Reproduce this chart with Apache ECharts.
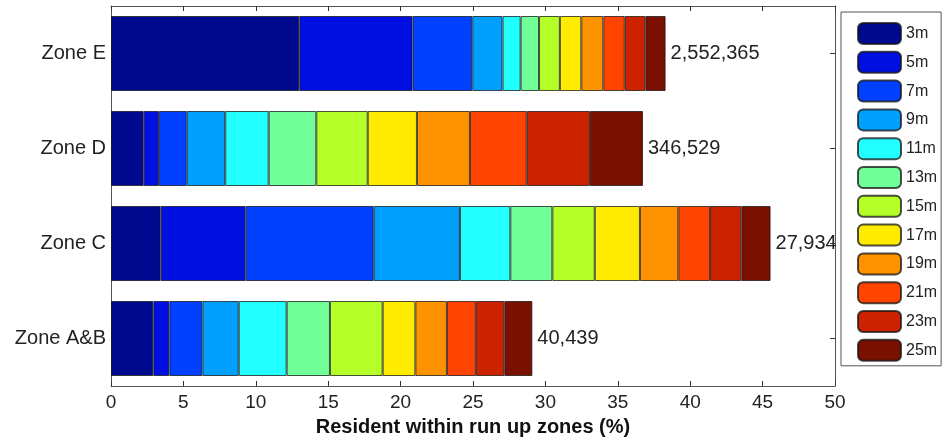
<!DOCTYPE html>
<html>
<head>
<meta charset="utf-8">
<script src="https://cdn.jsdelivr.net/npm/echarts@6/dist/echarts.min.js"></script>
<style>html,body{margin:0;padding:0;background:#fff}#c{width:947px;height:441px}</style>
</head>
<body>
<div id="c"></div>
<script>
// Categories (bottom to top)
const categories = ['Zone A&B', 'Zone C', 'Zone D', 'Zone E'];
// Run-up height classes
const heights = ['3m', '5m', '7m', '9m', '11m', '13m', '15m', '17m', '19m', '21m', '23m', '25m'];
// Percentage of residents per run-up class (segment widths)
const zoneAB = [2.92, 1.11, 2.28, 2.51, 3.31, 2.99, 3.64, 2.26, 2.18, 2.00, 1.96, 1.94];
const zoneC  = [3.43, 5.87, 8.84, 5.96, 3.48, 2.90, 2.93, 3.12, 2.65, 2.19, 2.16, 2.02];
const zoneD  = [2.26, 1.05, 1.92, 2.66, 3.00, 3.29, 3.55, 3.40, 3.66, 3.92, 4.37, 3.66];
const zoneE  = [13.0, 7.83, 4.12, 2.09, 1.25, 1.27, 1.44, 1.48, 1.52, 1.48, 1.42, 1.40];
// Total residents per zone (labels at bar ends)
const totals = ['40,439', '27,934', '346,529', '2,552,365'];
// Colours
const colors = ['#000A8F', '#0010E0', '#0040FF', '#00A0FF', '#22FFFF', '#70FF98',
                '#B4FF28', '#FFEB00', '#FF9200', '#FF4400', '#CC2200', '#7A1000'];

const zones = [zoneAB, zoneC, zoneD, zoneE];
const font = 'Liberation Sans, Arial, Helvetica, sans-serif';

const series = heights.map((h, i) => ({
  name: h,
  type: 'bar',
  stack: 'total',
  barWidth: 75,
  data: zones.map(z => z[i]),
  itemStyle: { color: colors[i], borderColor: 'rgba(20,20,20,0.75)', borderWidth: 1 },
  emphasis: { disabled: true },
  label: i === heights.length - 1 ? {
    show: true, position: 'right', distance: 5,
    formatter: p => totals[p.dataIndex],
    fontFamily: font, fontSize: 20, color: '#222'
  } : { show: false }
}));

const chart = echarts.init(document.getElementById('c'));
chart.setOption({
  animation: false,
  backgroundColor: '#fff',
  grid: { left: 111, top: 6, width: 724, height: 380, show: false, outerBoundsMode: 'none', containLabel: false },
  legend: {
    orient: 'vertical',
    left: 841, top: 12,
    padding: [10, 4, 4, 16],
    itemWidth: 43, itemHeight: 21, itemGap: 5.8,
    borderColor: '#555', borderWidth: 1,
    textStyle: { fontFamily: font, fontSize: 16, lineHeight: 20, color: '#222' },
    data: heights,
    selectedMode: false
  },
  xAxis: [{
    type: 'value', min: 0, max: 50, interval: 5, position: 'bottom',
    axisLine: { show: true, onZero: false, lineStyle: { color: '#555' } },
    axisTick: { show: true, inside: true, length: 5, lineStyle: { color: '#333' } },
    axisLabel: { fontFamily: font, fontSize: 19, color: '#222', margin: 7 },
    splitLine: { show: false },
    name: 'Resident within run up zones (%)', nameLocation: 'middle', nameGap: 31,
    nameTextStyle: { fontFamily: font, fontSize: 20, fontWeight: 'bold', color: '#111' }
  }, {
    type: 'value', min: 0, max: 50, interval: 5, position: 'top',
    axisLine: { show: true, onZero: false, lineStyle: { color: '#555' } },
    axisTick: { show: true, inside: true, length: 5, lineStyle: { color: '#333' } },
    axisLabel: { show: false }, splitLine: { show: false }
  }],
  yAxis: [{
    type: 'category', data: categories, position: 'left',
    axisLine: { show: true, onZero: false, lineStyle: { color: '#555' } },
    axisTick: { show: false },
    axisLabel: { fontFamily: font, fontSize: 20, color: '#222', margin: 5 }
  }, {
    type: 'category', data: categories, position: 'right',
    axisLine: { show: true, onZero: false, lineStyle: { color: '#555' } },
    axisTick: { show: true, inside: true, alignWithLabel: true, length: 5, lineStyle: { color: '#333' } },
    axisLabel: { show: false }
  }],
  series: series
});
</script>
</body>
</html>
